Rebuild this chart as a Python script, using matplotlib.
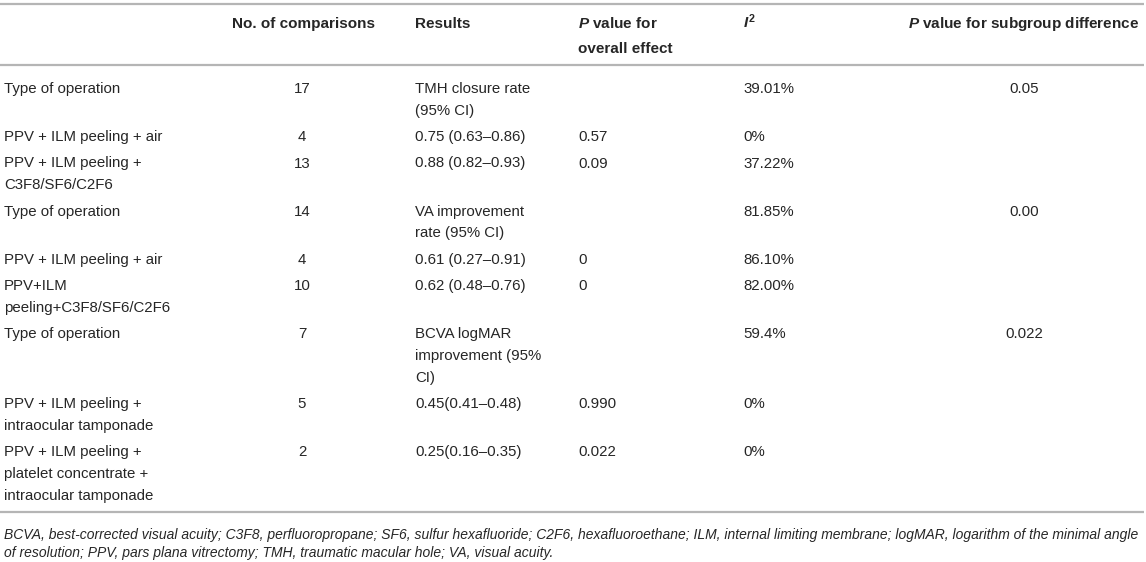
import matplotlib.pyplot as plt

plt.rcParams['font.family'] = ['Liberation Sans', 'DejaVu Sans']
plt.rcParams['mathtext.fontset'] = 'custom'
plt.rcParams['mathtext.rm'] = 'Liberation Sans:bold'
plt.rcParams['mathtext.it'] = 'Liberation Sans:italic:bold'
plt.rcParams['mathtext.bf'] = 'Liberation Sans:bold'

# table contents
headers = ["", "No. of comparisons", "Results",
           "$\\mathit{P}$ value for\noverall effect", "$\\mathit{I}^{2}$",
           "$\\mathit{P}$ value for subgroup difference"]

groups = ["Type of operation", "PPV + ILM peeling + air",
          "PPV + ILM peeling +\nC3F8/SF6/C2F6",
          "Type of operation", "PPV + ILM peeling + air",
          "PPV+ILM\npeeling+C3F8/SF6/C2F6",
          "Type of operation",
          "PPV + ILM peeling +\nintraocular tamponade",
          "PPV + ILM peeling +\nplatelet concentrate +\nintraocular tamponade"]
n_comparisons = ["17", "4", "13", "14", "4", "10", "7", "5", "2"]
results = ["TMH closure rate\n(95% CI)", "0.75 (0.63\u20130.86)", "0.88 (0.82\u20130.93)",
           "VA improvement\nrate (95% CI)", "0.61 (0.27\u20130.91)", "0.62 (0.48\u20130.76)",
           "BCVA logMAR\nimprovement (95%\nCI)", "0.45(0.41\u20130.48)", "0.25(0.16\u20130.35)"]
p_overall = ["", "0.57", "0.09", "", "0", "0", "", "0.990", "0.022"]
i_squared = ["39.01%", "0%", "37.22%", "81.85%", "86.10%", "82.00%", "59.4%", "0%", "0%"]
p_subgroup = ["0.05", "", "", "0.00", "", "", "0.022", "", ""]

footnote = ("BCVA, best-corrected visual acuity; C3F8, perfluoropropane; SF6, sulfur hexafluoride; "
            "C2F6, hexafluoroethane; ILM, internal limiting membrane; logMAR, logarithm of the minimal angle\n"
            "of resolution; PPV, pars plana vitrectomy; TMH, traumatic macular hole; VA, visual acuity.")

W, H = 1146, 562
fig = plt.figure(figsize=(W / 100, H / 100), dpi=100)
ax = fig.add_axes([0, 0, 1, 1])
ax.set_xlim(0, W)
ax.set_ylim(H, 0)
ax.axis('off')

txt_color = '#262626'
rule_color = '#b5b5b5'

# column x positions and alignment
col_x = [4, 302, 415, 578, 743, 1024]
col_ha = ['left', 'center', 'left', 'left', 'left', 'center']
header_x = [4, 232, 415, 578, 743, 908]


def put(x, y, s, ha='left', fs=10.8, step=21.8, **kw):
    for i, line in enumerate(s.split('\n')):
        ax.text(x, y + i * step + 5.2, line, ha=ha, va='baseline',
                fontsize=fs, color=txt_color, **kw)


# rules
for y in (4, 65, 512):
    ax.plot([0, 1144], [y, y], color=rule_color, lw=1.6, solid_capstyle='butt')

# header
for x, h in zip(header_x, headers):
    if h:
        put(x, 23, h, fs=11, step=25, fontweight='bold')

# body
columns = [groups, n_comparisons, results, p_overall, i_squared, p_subgroup]
y = 88
for r in range(len(groups)):
    nlines = max(c[r].count('\n') + 1 for c in columns)
    for c, x, ha in zip(columns, col_x, col_ha):
        if c[r]:
            put(x, y, c[r], ha=ha)
    y += 26.2 + 21.9 * (nlines - 1)

# footnote
put(4, 534, footnote, fs=10.0, step=17.5, style='italic')

fig.savefig('out.png', dpi=100)
